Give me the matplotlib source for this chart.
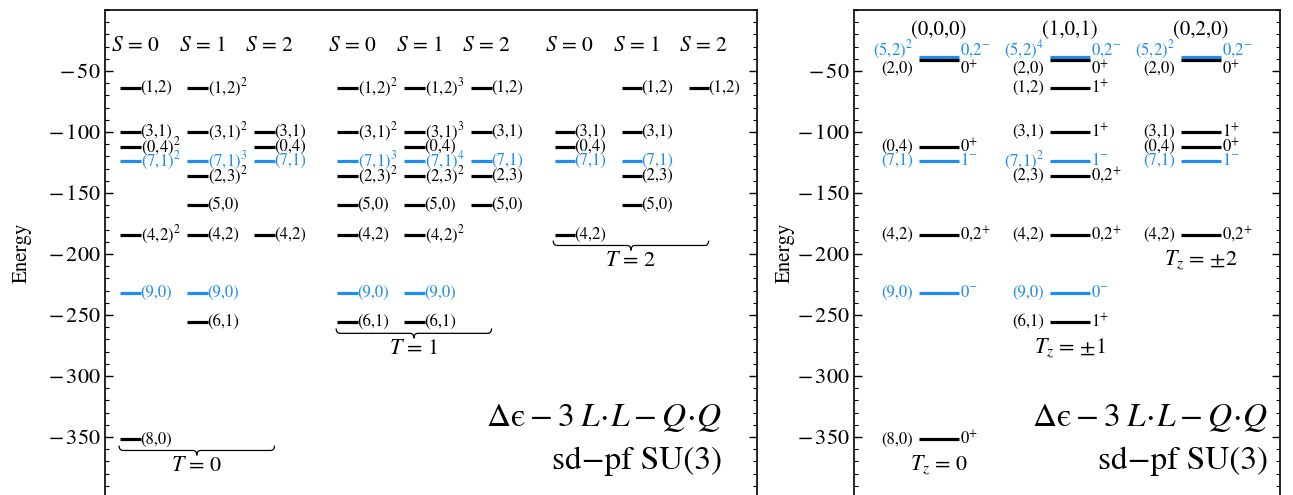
import matplotlib
matplotlib.use("Agg")
import matplotlib.pyplot as plt
from matplotlib.path import Path
from matplotlib.patches import PathPatch
from matplotlib.ticker import MultipleLocator, FuncFormatter

plt.rcParams['font.family'] = ['STIXGeneral', 'DejaVu Serif']
plt.rcParams['mathtext.fontset'] = 'stix'

BLUE = '#1e8cf0'

# ---------------- data ----------------
irreps = ["(1,2)", "(3,1)", "(0,4)", "(7,1)", "(2,3)", "(5,0)", "(4,2)",
          "(9,0)", "(6,1)", "(8,0)", "(5,2)", "(2,0)"]
energies = [-64, -100, -112, -124, -136, -160, -184, -232, -256, -352, -38.5, -41]
negative_parity = ["(7,1)", "(9,0)", "(5,2)"]

# left panel: multiplicity of each irrep per (T, S) column
t0_s0 = {"(1,2)": 1, "(3,1)": 1, "(0,4)": 2, "(7,1)": 2, "(4,2)": 2, "(9,0)": 1, "(8,0)": 1}
t0_s1 = {"(1,2)": 2, "(3,1)": 2, "(7,1)": 3, "(2,3)": 2, "(5,0)": 1, "(4,2)": 1, "(9,0)": 1, "(6,1)": 1}
t0_s2 = {"(3,1)": 1, "(0,4)": 1, "(7,1)": 1, "(4,2)": 1}
t1_s0 = {"(1,2)": 2, "(3,1)": 2, "(7,1)": 3, "(2,3)": 2, "(5,0)": 1, "(4,2)": 1, "(9,0)": 1, "(6,1)": 1}
t1_s1 = {"(1,2)": 3, "(3,1)": 3, "(0,4)": 1, "(7,1)": 4, "(2,3)": 2, "(5,0)": 1, "(4,2)": 2, "(9,0)": 1, "(6,1)": 1}
t1_s2 = {"(1,2)": 1, "(3,1)": 1, "(7,1)": 1, "(2,3)": 1, "(5,0)": 1}
t2_s0 = {"(3,1)": 1, "(0,4)": 1, "(7,1)": 1, "(4,2)": 1}
t2_s1 = {"(1,2)": 1, "(3,1)": 1, "(7,1)": 1, "(2,3)": 1, "(5,0)": 1}
t2_s2 = {"(1,2)": 1}
left_groups = [[t0_s0, t0_s1, t0_s2], [t1_s0, t1_s1, t1_s2], [t2_s0, t2_s1, t2_s2]]
S_labels = ["$S$ = 0", "$S$ = 1", "$S$ = 2"]
T_labels = ["$T$ = 0", "$T$ = 1", "$T$ = 2"]

# right panel: irrep -> (multiplicity, L label)
c000 = {"(5,2)": (2, "0,2$^{-}$"), "(2,0)": (1, "0$^{+}$"), "(0,4)": (1, "0$^{+}$"),
        "(7,1)": (1, "1$^{-}$"), "(4,2)": (1, "0,2$^{+}$"), "(9,0)": (1, "0$^{-}$"),
        "(8,0)": (1, "0$^{+}$")}
c101 = {"(5,2)": (4, "0,2$^{-}$"), "(2,0)": (1, "0$^{+}$"), "(1,2)": (1, "1$^{+}$"),
        "(3,1)": (1, "1$^{+}$"), "(7,1)": (2, "1$^{-}$"), "(2,3)": (1, "0,2$^{+}$"),
        "(4,2)": (1, "0,2$^{+}$"), "(9,0)": (1, "0$^{-}$"), "(6,1)": (1, "1$^{+}$")}
c020 = {"(5,2)": (2, "0,2$^{-}$"), "(2,0)": (1, "0$^{+}$"), "(3,1)": (1, "1$^{+}$"),
        "(0,4)": (1, "0$^{+}$"), "(7,1)": (1, "1$^{-}$"), "(4,2)": (1, "0,2$^{+}$")}
right_cols = [c000, c101, c020]
right_headers = ["(0,0,0)", "(1,0,1)", "(0,2,0)"]
Tz_labels = ["$T_z$ = 0", "$T_z$ = $\\pm$1", "$T_z$ = $\\pm$2"]

E = dict(zip(irreps, energies))
label_shift = {"(5,2)": 5.7, "(2,0)": -7.2}

def color_of(name):
    return BLUE if name in negative_parity else 'black'

def mult_text(name, m):
    return name if m == 1 else name + "$^{%d}$" % m

def tick_fmt(v, pos):
    v = int(round(v))
    return r"$-\,$%d" % (-v) if v < 0 else "%d" % v

# ---------------- figure ----------------
W, H = 1293, 495
fig = plt.figure(figsize=(W / 100, H / 100), dpi=100)
YLIM = (-397.5, 0)
axL = fig.add_axes([105 / W, 0.0, (757 - 105) / W, 1 - 10 / H])
axR = fig.add_axes([854 / W, 0.0, (1280 - 854) / W, 1 - 10 / H])

for ax in (axL, axR):
    ax.set_ylim(*YLIM)
    ax.yaxis.set_major_locator(MultipleLocator(50))
    ax.yaxis.set_minor_locator(MultipleLocator(10))
    ax.yaxis.set_major_formatter(FuncFormatter(tick_fmt))
    ax.tick_params(axis='y', which='both', direction='in', left=True, right=True, labelsize=16)
    ax.tick_params(axis='y', which='major', length=6, width=1, pad=3)
    ax.tick_params(axis='y', which='minor', length=3, width=0.8)
    ax.set_yticks([-50, -100, -150, -200, -250, -300, -350])
    ax.set_xticks([])
    ax.spines['bottom'].set_visible(False)
    for s in ('left', 'right', 'top'):
        ax.spines[s].set_linewidth(1.2)
    ax.set_ylabel("Energy", fontsize=15)

axL.yaxis.set_label_coords((32 - 105) / 652, 0.5)
axR.yaxis.set_label_coords((795 - 854) / 426, 0.5)


def brace(ax, x0, x1, y, dx, dy):
    xm = 0.5 * (x0 + x1)
    verts = [(x0, y + dy), (x0, y), (x0 + dx, y), (xm - dx, y), (xm, y), (xm, y - dy),
             (xm, y), (xm + dx, y), (x1 - dx, y), (x1, y), (x1, y + dy)]
    codes = [Path.MOVETO, Path.CURVE3, Path.CURVE3, Path.LINETO, Path.CURVE3, Path.CURVE3,
             Path.CURVE3, Path.CURVE3, Path.LINETO, Path.CURVE3, Path.CURVE3]
    ax.add_patch(PathPatch(Path(verts, codes), fill=False, lw=0.9, color='black'))


FORMULA = "$\\Delta\\mathrm{\u03f5} - 3\\;L\\!\\cdot\\!L - Q\\!\\cdot\\!Q$"

# ---- left panel ----
axL.set_xlim(0, 652 / 67)
seg = 0.3
for g, group in enumerate(left_groups):
    lows = []
    for s, col in enumerate(group):
        x0 = 0.23 + g * 3.24 + s
        axL.text(x0 + 0.22, -30, S_labels[s], ha='center', va='center', fontsize=15.5)
        for name, m in col.items():
            y = E[name]
            c = color_of(name)
            axL.plot([x0, x0 + seg], [y, y], color=c, lw=2.3, solid_capstyle='butt')
            axL.text(x0 + seg, y, mult_text(name, m), color=c, ha='left', va='center',
                     fontsize=12)
            lows.append(y)
    xa = 0.23 + g * 3.24 - 0.02
    xb = 0.23 + g * 3.24 + 2 + seg
    ylow = min(lows)
    brace(axL, xa, xb, ylow - 9, 0.06, 4)
    axL.text(0.5 * (xa + xb), ylow - 22, T_labels[g], ha='center', va='center', fontsize=16)

axL.text((722 - 105) / 652, (495 - 418) / 485, FORMULA, transform=axL.transAxes,
         ha='right', va='center', fontsize=24)
axL.text((722 - 105) / 652, (495 - 461) / 485, "sd\u2212pf SU(3)", transform=axL.transAxes,
         ha='right', va='center', fontsize=24)

# ---- right panel ----
axR.set_xlim(0, 426 / 131)
segR = 0.305
for i, col in enumerate(right_cols):
    x0 = 0.496 + i
    axR.text(x0 + segR / 2, -16.5, right_headers[i], ha='center', va='center', fontsize=15)
    lows = []
    for name, (m, ltxt) in col.items():
        y = E[name]
        c = color_of(name)
        ly = y + label_shift.get(name, 0)
        axR.plot([x0, x0 + segR], [y, y], color=c, lw=2.3, solid_capstyle='butt')
        axR.text(x0 - 0.045, ly, mult_text(name, m), color=c, ha='right', va='center',
                 fontsize=12)
        axR.text(x0 + segR + 0.01, ly, ltxt, color=c, ha='left', va='center', fontsize=12)
        lows.append(y)
    axR.text(x0 + segR / 2, min(lows) - 21, Tz_labels[i], ha='center', va='center', fontsize=16)

axR.text((1268 - 854) / 426, (495 - 418) / 485, FORMULA, transform=axR.transAxes,
         ha='right', va='center', fontsize=24)
axR.text((1268 - 854) / 426, (495 - 461) / 485, "sd\u2212pf SU(3)", transform=axR.transAxes,
         ha='right', va='center', fontsize=24)

fig.savefig("out.png", dpi=100)
